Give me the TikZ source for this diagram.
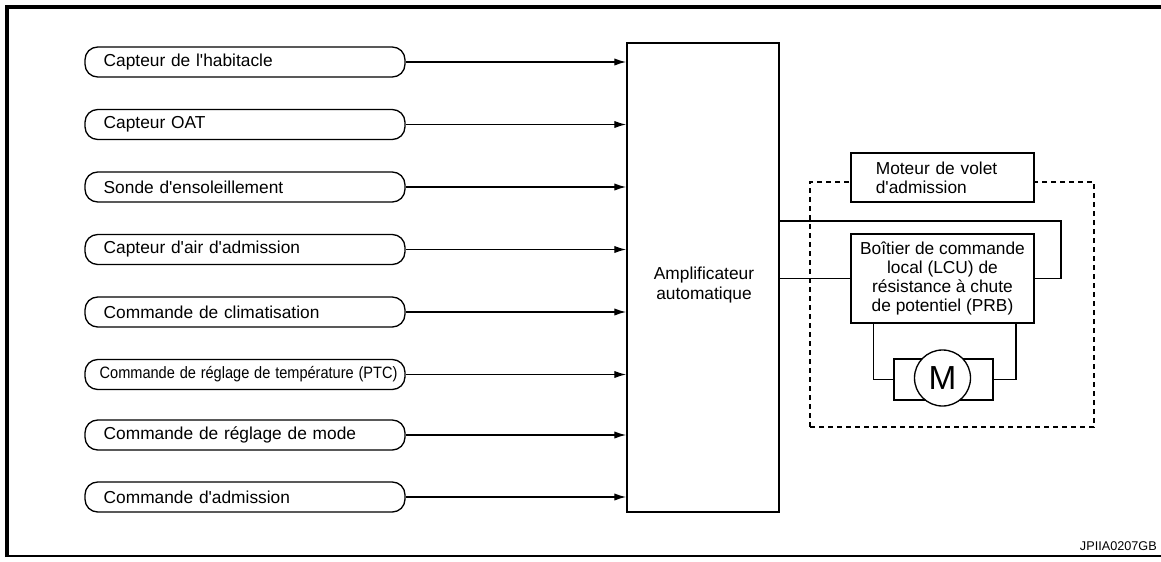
\documentclass[tikz,border=0pt]{standalone}
\usepackage{fontspec}
\setmainfont{Liberation Sans}
\usepackage{graphicx}
\usetikzlibrary{arrows.meta,positioning,calc}
\newcommand{\apos}{\textquotesingle{}}
\tikzset{
  inbox/.style={draw=black,line width=1pt,rounded corners=9.5pt,
                minimum width=240pt,minimum height=22.5pt,
                inner xsep=14pt,text width=212pt,align=left,
                font=\fontsize{13}{15}\selectfont},
  ampbox/.style={draw=black,line width=1.1pt,minimum width=114pt,
                 minimum height=351.75pt,inner sep=0pt},
  partbox/.style={draw=black,line width=1pt,fill=white,
                  minimum width=137.25pt,inner sep=0pt},
  sig/.style={-{Latex[length=9pt,width=5.5pt]},line width=1pt},
  wire/.style={line width=1pt},
  grp/.style={draw=black,dashed,dash pattern=on 3.75pt off 3pt,line width=1pt,
              minimum width=213pt,minimum height=183.75pt,inner sep=0pt},
}

\begin{document}
\begin{tikzpicture}[x=0.75pt,y=-0.75pt,every node/.style={font=\fontsize{13}{15}\selectfont}]
  \useasboundingbox (0,0) rectangle (1161,561);
  % frame
  \draw[line width=2.4pt] (7,557) -- (7,7) -- (1161,7);
  \draw[line width=1.2pt] (7,556) -- (1161,556);
  \node[anchor=east,inner sep=0pt,font=\fontsize{9.5}{11}\selectfont] (ref) at (1157,546) {JPIIA0207GB};

  % inputs
  \node[inbox] (s1) at (245,62) {Capteur de l\apos habitacle};
  \node[inbox] (s2) at (245,124.5) {Capteur OAT};
  \node[inbox] (s3) at (245,187) {Sonde d\apos ensoleillement};
  \node[inbox] (s4) at (245,249.5) {Capteur d\apos air d\apos admission};
  \node[inbox] (s5) at (245,312) {Commande de climatisation};
  \node[inbox] (s6) at (245,374.5)
    {\hspace*{-3pt}\makebox[212pt][l]{\scalebox{0.84}[0.95]{Commande de réglage de température (PTC)}}};
  \node[inbox] (s7) at (245,435) {Commande de réglage de mode};
  \node[inbox] (s8) at (245,497) {Commande d\apos admission};

  % amplifier
  \node[ampbox] (amp) at (703,277.5) {};
  \node[align=center,inner sep=0pt] (ampl) at (704,285) {Amplificateur\\automatique};

  \draw[sig] (s1.east) -- (s1.east -| amp.west);
  \draw[sig] (s2.east) -- (s2.east -| amp.west);
  \draw[sig] (s3.east) -- (s3.east -| amp.west);
  \draw[sig] (s4.east) -- (s4.east -| amp.west);
  \draw[sig] (s5.east) -- (s5.east -| amp.west);
  \draw[sig] (s6.east) -- (s6.east -| amp.west);
  \draw[sig] (s7.east) -- (s7.east -| amp.west);
  \draw[sig] (s8.east) -- (s8.east -| amp.west);

  % intake door motor
  \node[grp] (grp) at (952,304.5) {};
  \node[partbox,minimum height=36.75pt,text width=100pt,align=left,
        inner xsep=18.6pt,font=\fontsize{13}{14.5}\selectfont] (mot) at (942.5,177.5)
    {Moteur de volet\\d\apos admission};
  \node[partbox,minimum height=66.75pt,align=center,
        font=\fontsize{13}{14.25}\selectfont] (lcu) at (942.5,278.5)
    {Boîtier de commande\\local (LCU) de\\résistance à chute\\de potentiel (PRB)};

  \coordinate (w1) at (1061,221);
  \draw[wire] (amp.east |- w1) -- (w1) |- (lcu.east);
  \draw[wire] (lcu.west -| amp.east) -- (lcu.west);

  \node[partbox,minimum width=74.25pt,minimum height=30.75pt] (mbox) at (943.5,379.5) {};
  \node[circle,draw=black,line width=1pt,fill=white,minimum size=42pt,inner sep=0pt,
        font=\fontsize{25}{25}\selectfont] (mtr) at (942.5,378) {M};
  \draw[wire] ([xshift=-52pt]lcu.south) |- (mbox.west);
  \draw[wire] ([xshift=55pt]lcu.south) |- (mbox.east);
\end{tikzpicture}
\end{document}
